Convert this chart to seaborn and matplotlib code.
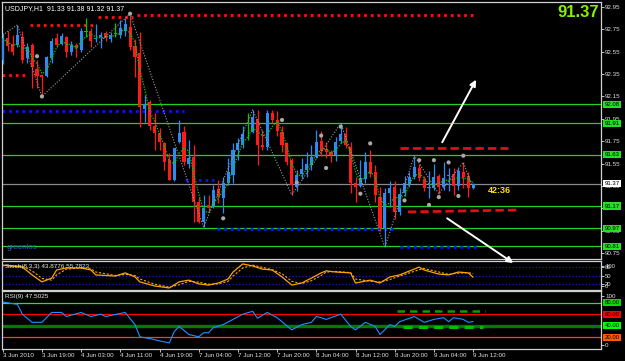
import numpy as np
import pandas as pd
import matplotlib
matplotlib.use("Agg")
import matplotlib.pyplot as plt
import matplotlib.transforms as mtrans
import seaborn as sns

# USDJPY H1 candles, 3 Jun 2010 11:00 -> 9 Jun 12:00 (97 bars)
opens = [92.48, 92.67, 92.62, 92.61, 92.68, 92.49, 92.61, 92.40, 92.34, 92.33,
         92.49, 92.67, 92.62, 92.68, 92.55, 92.61, 92.57, 92.73, 92.74, 92.66,
         92.68, 92.72, 92.66, 92.71, 92.70, 92.74, 92.77, 92.60, 92.54, 92.04,
         92.10, 91.89, 91.82, 91.73, 91.58, 91.40, 91.74, 91.83, 91.55, 91.61,
         91.21, 91.03, 91.18, 91.16, 91.32, 91.24, 91.38, 91.45, 91.67, 91.72,
         91.82, 91.83, 91.95, 91.72, 91.70, 92.00, 91.94, 91.83, 91.73, 91.58,
         91.34, 91.46, 91.49, 91.54, 91.61, 91.75, 91.68, 91.65, 91.63, 91.75,
         91.81, 91.70, 91.38, 91.35, 91.41, 91.56, 91.47, 91.25, 90.97, 91.29,
         91.34, 91.12, 91.29, 91.37, 91.43, 91.51, 91.41, 91.33, 91.33, 91.44,
         91.34, 91.44, 91.46, 91.35, 91.47, 91.44, 91.33]
highs = [92.72, 92.74, 92.70, 92.79, 92.74, 92.63, 92.63, 92.48, 92.35, 92.51,
         92.67, 92.72, 92.72, 92.69, 92.65, 92.63, 92.76, 92.85, 92.76, 92.80,
         92.73, 92.74, 92.73, 92.81, 92.83, 92.85, 92.87, 92.66, 92.73, 92.16,
         92.12, 92.00, 91.87, 91.74, 91.64, 91.69, 91.94, 91.89, 91.76, 91.72,
         91.25, 91.27, 91.27, 91.36, 91.40, 91.43, 91.60, 91.73, 91.78, 91.89,
         92.00, 92.03, 92.03, 91.85, 92.03, 92.03, 92.02, 91.89, 91.74, 91.60,
         91.49, 91.60, 91.65, 91.72, 91.85, 91.84, 91.74, 91.67, 91.79, 91.91,
         91.88, 91.74, 91.43, 91.58, 91.65, 91.67, 91.54, 91.34, 91.33, 91.39,
         91.39, 91.33, 91.44, 91.47, 91.62, 91.55, 91.44, 91.48, 91.55, 91.46,
         91.56, 91.51, 91.51, 91.51, 91.56, 91.47, 91.38]
lows = [92.44, 92.56, 92.52, 92.59, 92.45, 92.45, 92.23, 92.23, 92.16, 92.32,
        92.45, 92.59, 92.61, 92.50, 92.52, 92.50, 92.55, 92.68, 92.59, 92.64,
        92.58, 92.65, 92.64, 92.68, 92.67, 92.69, 92.57, 92.32, 91.88, 91.92,
        91.85, 91.67, 91.67, 91.49, 91.40, 91.39, 91.73, 91.54, 91.51, 91.03,
        91.02, 90.98, 91.12, 91.15, 91.20, 91.11, 91.36, 91.38, 91.58, 91.69,
        91.76, 91.82, 91.54, 91.67, 91.67, 91.91, 91.80, 91.65, 91.54, 91.27,
        91.30, 91.41, 91.43, 91.49, 91.60, 91.62, 91.60, 91.56, 91.57, 91.73,
        91.69, 91.29, 91.21, 91.34, 91.38, 91.43, 91.21, 90.95, 90.80, 91.16,
        91.05, 91.09, 91.26, 91.34, 91.41, 91.39, 91.30, 91.24, 91.31, 91.28,
        91.31, 91.30, 91.27, 91.31, 91.33, 91.25, 91.32]
closes = [92.67, 92.60, 92.55, 92.70, 92.48, 92.59, 92.41, 92.33, 92.32, 92.50,
          92.65, 92.61, 92.69, 92.55, 92.61, 92.58, 92.74, 92.73, 92.65, 92.67,
          92.70, 92.67, 92.70, 92.71, 92.76, 92.80, 92.59, 92.50, 92.06, 92.08,
          91.89, 91.82, 91.74, 91.56, 91.40, 91.69, 91.82, 91.56, 91.60, 91.21,
          91.03, 91.15, 91.15, 91.31, 91.25, 91.38, 91.47, 91.67, 91.73, 91.81,
          91.82, 91.97, 91.72, 91.70, 92.00, 91.94, 91.84, 91.72, 91.56, 91.36,
          91.45, 91.50, 91.55, 91.61, 91.74, 91.66, 91.65, 91.63, 91.74, 91.81,
          91.72, 91.38, 91.34, 91.42, 91.56, 91.46, 91.27, 90.97, 91.29, 91.33,
          91.12, 91.28, 91.38, 91.43, 91.52, 91.42, 91.33, 91.34, 91.43, 91.34,
          91.42, 91.45, 91.35, 91.48, 91.43, 91.33, 91.37]

time_ticks = [0, 8, 16, 24, 32, 40, 48, 56, 64, 72, 80, 88, 96]
time_labels = ["3 Jun 2010", "3 Jun 19:00", "4 Jun 03:00", "4 Jun 11:00", "4 Jun 19:00",
               "7 Jun 04:00", "7 Jun 12:00", "7 Jun 20:00", "8 Jun 04:00", "8 Jun 12:00",
               "8 Jun 20:00", "9 Jun 04:00", "9 Jun 12:00"]
price_ticks = [92.95, 92.75, 92.55, 92.35, 92.15, 91.95, 91.75, 91.55, 91.35, 91.15, 90.95, 90.75]

# zigzag + fractals
zz_idx = [0, 3, 8, 26, 41, 51, 59, 69, 78, 84, 89, 94, 96]
zz_px = [92.70, 92.79, 92.15, 92.89, 90.98, 92.03, 91.27, 91.91, 90.80, 91.62, 91.28, 91.56, 91.33]
frac_idx = [7, 8, 26, 45, 57, 60, 65, 66, 69, 73, 75, 82, 85, 87, 88, 89, 91, 93, 94]
frac_px = [92.51, 92.15, 92.89, 91.06, 91.94, 91.38, 91.80, 91.51, 91.88, 91.28, 91.73,
           91.22, 91.58, 91.18, 91.58, 91.25, 91.56, 91.26, 91.62]

# horizontal levels
green_levels = [92.08, 91.91, 91.63, 91.17, 90.97, 90.81]
green_labels = ["92.08", "91.91", "91.63", "91.17", "90.97", "90.81"]
last_price = 91.37
red_dot_px = [92.34, 92.79, 92.86, 92.88]
red_dot_x0 = [-0.2, 5.6, 19.5, 27.4]
red_dot_x1 = [5.0, 19.0, 26.6, 96.5]
blue_dot_px = [92.02, 91.40, 90.965, 90.80]
blue_dot_x0 = [-0.2, 37.2, 43.7, 81.0]
blue_dot_x1 = [37.0, 43.2, 80.2, 96.5]
red_dash_x = [[81.1, 103.1], [82.7, 104.9]]
red_dash_y = [[91.69, 91.69], [91.117, 91.134]]
arrow_up = [(89.7, 91.74), (96.6, 92.30)]
arrow_down = [(90.7, 91.06), (104.2, 90.66)]

# stochastic (8,3,3)
st_idx = [0, 4, 6, 8, 10, 11, 13, 16, 18, 19, 23, 25, 27, 28, 31, 34, 36, 38, 40, 42,
          44, 46, 47, 49, 51, 53, 55, 57, 59, 61, 63, 65, 66, 68, 71, 72, 75, 77, 79, 81,
          85, 86, 89, 91, 93, 95, 96]
st_main = [86, 79, 52, 28, 41, 69, 76, 76, 69, 52, 48, 59, 45, 28, 14, 7, 28, 34, 21, 17,
           24, 38, 62, 90, 83, 72, 69, 45, 17, 24, 41, 59, 66, 62, 59, 24, 34, 24, 45, 52,
           79, 69, 55, 52, 62, 59, 44]
st_signal = [84, 82, 66, 40, 34, 52, 72, 76, 73, 62, 50, 54, 50, 38, 20, 10, 18, 30, 27, 20,
             21, 30, 48, 76, 86, 78, 70, 56, 30, 22, 32, 50, 62, 64, 60, 38, 30, 28, 36, 48,
             70, 74, 62, 54, 58, 60, 56]
st_tick_pos = [84, 80, 50, 20, 13]
st_tick_lab = ["100", "80", "50", "20", "0"]

# RSI(9)
rsi_idx = [0, 3, 4, 6, 8, 10, 12, 13, 16, 18, 20, 21, 25, 27, 28, 30, 32, 34, 35, 36,
           37, 38, 40, 41, 42, 43, 45, 47, 49, 51, 52, 54, 56, 59, 61, 63, 64, 65, 66, 69,
           71, 72, 74, 76, 77, 79, 80, 81, 84, 86, 88, 90, 91, 92, 94, 95, 96]
rsi_val = [81, 77, 60, 46, 46, 63, 63, 56, 63, 56, 60, 56, 63, 42, 21, 18, 14, 10.5, 30, 39,
           32, 25, 21, 28, 28, 37, 42, 51, 60, 65, 53, 63, 54, 33, 42, 46, 56, 54, 51, 60,
           39, 33, 46, 39, 25, 42, 39, 47, 56, 46, 51, 54, 47, 54, 51, 46, 47.5]
rsi_levels = [80, 60, 40, 20]
rsi_level_colors = ["#00ff00", "#ff0000", "#007a00", "#ff4500"]
rsi_box_colors = ["#00dd00", "#ff0000", "#00ff00", "#ff5a00"]
rsi_tick_pos = [91, 7]
rsi_tick_lab = ["100", "0"]

sns.set_theme(style="dark", rc={"axes.facecolor": "black", "figure.facecolor": "black"})
plt.rcParams["font.family"] = ["Liberation Sans Narrow", "Liberation Sans", "DejaVu Sans"]

df = pd.DataFrame({"o": opens, "h": highs, "l": lows, "c": closes})
df["i"] = np.arange(len(df))
df["ma"] = df["c"].rolling(3, min_periods=1).mean()

BULL, BEAR, DOJI = "#2a8cf2", "#ff1a1a", "#00c800"
df["col"] = np.where(np.isclose(df.o, df.c), DOJI, np.where(df.c > df.o, BULL, BEAR))

fig = plt.figure(figsize=(6.25, 3.61), dpi=100)
ax_st = fig.add_axes([2 / 625, 1 - 290 / 361, 599 / 625, 29 / 361])
ax_rsi = fig.add_axes([2 / 625, 1 - 349 / 361, 599 / 625, 58 / 361])
ax = fig.add_axes([2 / 625, 1 - 259 / 361, 599 / 625, 257 / 361])
ax.set_zorder(5)

xlim = (-0.7 / 4.9, (599 - 0.7) / 4.9)
for a in (ax, ax_st, ax_rsi):
    a.set_facecolor("black")
    a.set_xlim(*xlim)
    a.grid(False)
    for s in a.spines.values():
        s.set_color("#d0d0d0")
        s.set_linewidth(0.9)
    a.yaxis.tick_right()
    a.tick_params(axis="y", colors="#e0e0e0", labelsize=4.5, length=2, width=0.6, pad=1,
                  right=True, left=False)
    a.tick_params(axis="x", bottom=False, labelbottom=False)

# ---- main price panel
ax.set_ylim(90.696, 92.995)
ax.set_yticks(price_ticks)
ax.set_yticklabels([f"{p:.2f}" for p in price_ticks])

for lv in green_levels:
    ax.axhline(lv, color="#22d022", lw=0.9, zorder=1)
ax.axhline(last_price, color="#8a8a8a", lw=0.9, zorder=1)

for p, x0, x1 in zip(red_dot_px, red_dot_x0, red_dot_x1):
    ax.hlines(p, x0, x1, color="#ff1010", lw=2.0, linestyles=(0, (1, 1.4)), zorder=2)
for p, x0, x1 in zip(blue_dot_px, blue_dot_x0, blue_dot_x1):
    ax.hlines(p, x0, x1, color="#1010ff", lw=2.0, linestyles=(0, (1, 1.4)), zorder=2)
for xs, ys in zip(red_dash_x, red_dash_y):
    ax.plot(xs, ys, color="#e01010", lw=2.0, linestyle=(0, (3, 1.5)), zorder=2)

# candles
ax.vlines(df.i, df.l, df.h, colors=df.col, lw=0.9, zorder=3)
body = np.maximum((df.c - df.o).abs(), 0.006)
ax.bar(df.i, body, bottom=np.minimum(df.o, df.c), width=0.62, color=df.col, lw=0, zorder=4)

sns.lineplot(data=df, x="i", y="ma", ax=ax, color="#00d000", lw=0.9,
             linestyle=(0, (1, 1.2)), zorder=6)
sns.lineplot(x=zz_idx, y=zz_px, ax=ax, color="#9a9a9a", lw=0.8,
             linestyle=(0, (1, 1.5)), zorder=6)
sns.scatterplot(x=frac_idx, y=frac_px, ax=ax, color="#a8a8a8", s=9, edgecolor="none", zorder=7)

for tail, head in (arrow_up, arrow_down):
    ax.annotate("", xy=head, xytext=tail, annotation_clip=False, zorder=8,
                arrowprops=dict(arrowstyle="-|>", color="white", lw=1.4, mutation_scale=9,
                                shrinkA=0, shrinkB=0))

ax.set_xlabel("")
ax.set_ylabel("")
ax.text(0.005, 0.988, "USDJPY,H1  91.33 91.38 91.32 91.37", transform=ax.transAxes,
        ha="left", va="top", color="white", fontsize=5)
ax.text(0.9965, 0.99, "91.37", transform=ax.transAxes, ha="right", va="top",
        color="#86f000", fontsize=12, fontweight="bold", family=["Liberation Sans", "DejaVu Sans"])
ax.text(99.1, 91.31, "42:36", ha="left", va="center", color="#ffe000", fontsize=6.5,
        fontweight="bold", family=["Liberation Sans", "DejaVu Sans"])
ax.text(0.008, 0.045, "greenlos", transform=ax.transAxes, ha="left", va="center",
        color="#2a5ad8", fontsize=5.8)

trm = mtrans.blended_transform_factory(ax.transAxes, ax.transData)
for lv, lab in zip(green_levels, green_labels):
    ax.text(1.006, lv, lab, transform=trm, ha="left", va="center", fontsize=4.3, color="black",
            clip_on=False, bbox=dict(boxstyle="square,pad=0.2", fc="#22e022", ec="none"))
ax.text(1.006, last_price, f"{last_price:.2f}", transform=trm, ha="left", va="center",
        fontsize=4.3, color="black", clip_on=False,
        bbox=dict(boxstyle="square,pad=0.2", fc="white", ec="none"))

# ---- stochastic panel
ax_st.set_ylim(0, 100)
for lv in (80, 50, 20):
    ax_st.axhline(lv, color="#1a1aff", lw=0.8, linestyle=(0, (1, 2)))
sns.lineplot(x=st_idx, y=st_signal, ax=ax_st, color="#ffa500", lw=0.8, linestyle=(0, (2, 1.5)))
sns.lineplot(x=st_idx, y=st_main, ax=ax_st, color="#ffa500", lw=0.9)
ax_st.set_yticks(st_tick_pos)
ax_st.set_yticklabels(st_tick_lab)
ax_st.tick_params(axis="y", labelsize=4.2)
ax_st.set_xlabel("")
ax_st.set_ylabel("")
ax_st.text(0.005, 0.8, "Stoch(8,3,3) 43.8776 55.7823", transform=ax_st.transAxes,
           ha="left", va="center", color="#e8e8e8", fontsize=4.6)

# ---- RSI panel
ax_rsi.set_ylim(0, 100)
for lv, col in zip(rsi_levels, rsi_level_colors):
    ax_rsi.axhline(lv, color=col, lw=2.4 if lv == 40 else 0.9)
ax_rsi.plot([80.5, 98.4], [65, 65], color="#00a000", lw=1.8, linestyle=(0, (3, 2)))
ax_rsi.plot([81.7, 98.0], [38, 38], color="#00c000", lw=2.2, linestyle=(0, (3, 2)))
sns.lineplot(x=rsi_idx, y=rsi_val, ax=ax_rsi, color="#1e90ff", lw=0.8)
ax_rsi.set_yticks(rsi_tick_pos)
ax_rsi.set_yticklabels(rsi_tick_lab)
ax_rsi.set_xlabel("")
ax_rsi.set_ylabel("")
ax_rsi.text(0.005, 0.9, "RSI(9) 47.5025", transform=ax_rsi.transAxes, ha="left", va="center",
            color="#e8e8e8", fontsize=4.6)
trr = mtrans.blended_transform_factory(ax_rsi.transAxes, ax_rsi.transData)
for lv, col in zip(rsi_levels, rsi_box_colors):
    ax_rsi.text(1.006, lv, f"{lv:.2f}", transform=trr, ha="left", va="center", fontsize=4.3,
                color="black", clip_on=False,
                bbox=dict(boxstyle="square,pad=0.2", fc=col, ec="none"))

ax_rsi.set_xticks(time_ticks)
ax_rsi.set_xticklabels(time_labels, ha="left")
ax_rsi.tick_params(axis="x", bottom=True, labelbottom=True, colors="#e0e0e0", labelsize=4.5,
                   length=2, width=0.6, pad=1)

fig.savefig("out.png", dpi=100, facecolor="black")
